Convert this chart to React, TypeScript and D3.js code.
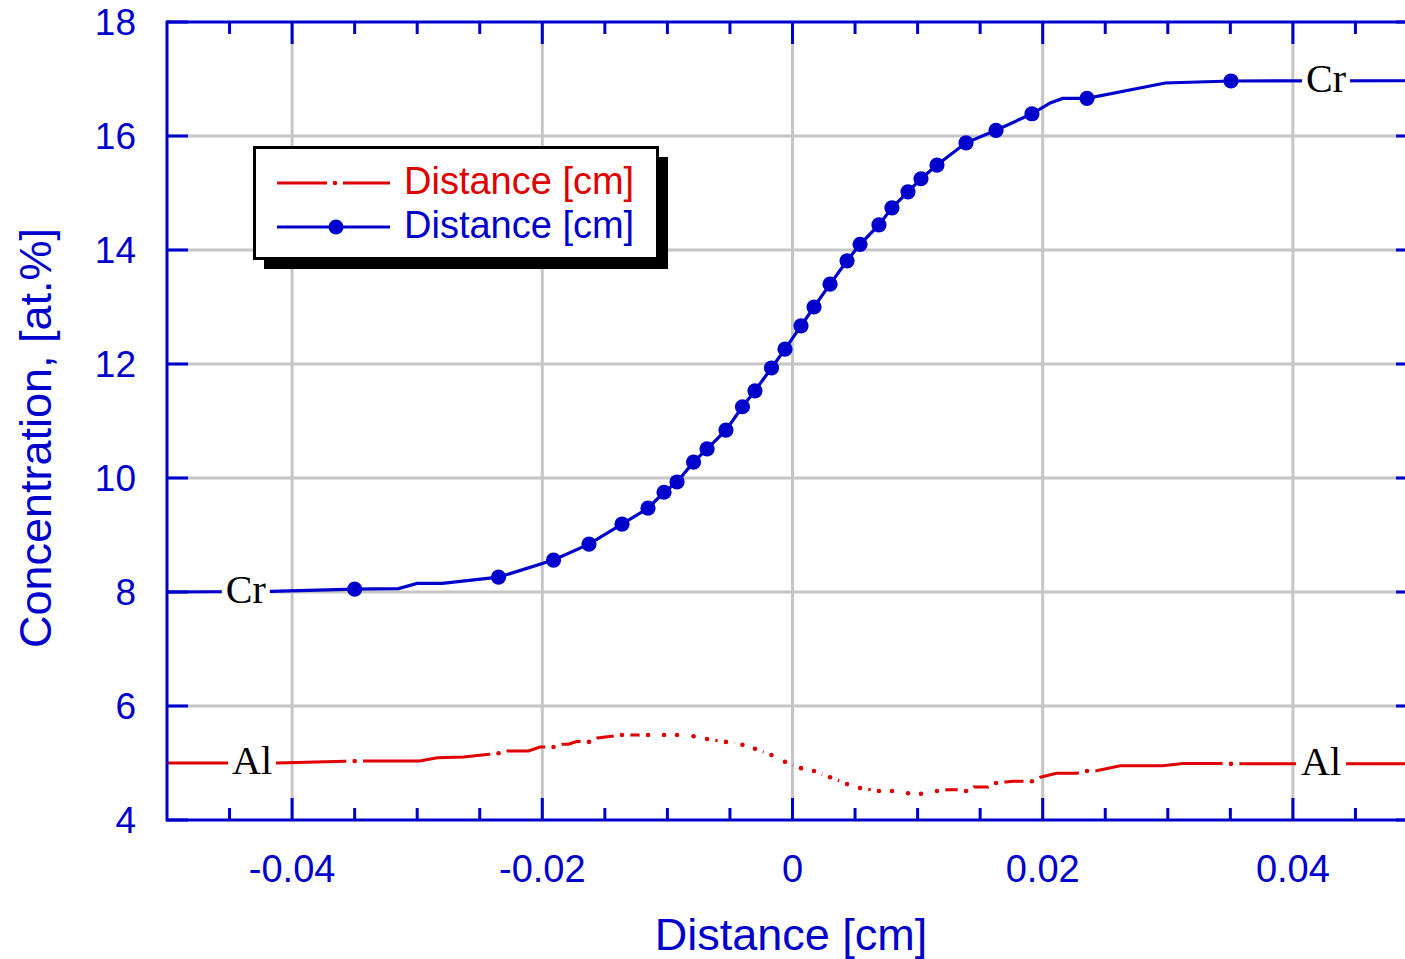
import React from 'react';
import * as d3 from 'd3';

// shared measurement positions (cm)
const xPoints = [-0.035, -0.0235, -0.0191, -0.01627, -0.01363, -0.01155, -0.01027, -0.00923, -0.00791, -0.00683,
  -0.00532, -0.0040, -0.0030, -0.00168, -0.0006, 0.00068, 0.00172, 0.0030, 0.00436, 0.0054,
  0.00691, 0.00795, 0.00923, 0.01027, 0.01155, 0.01387, 0.01627, 0.01914, 0.02354, 0.03505];

// Cr concentration at the measurement points (at.%)
const crValues = [8.05, 8.26, 8.56, 8.84, 9.19, 9.47, 9.75, 9.93, 10.28, 10.51,
  10.84, 11.25, 11.53, 11.93, 12.26, 12.67, 13.0, 13.4, 13.81, 14.1,
  14.44, 14.74, 15.02, 15.25, 15.49, 15.88, 16.1, 16.39, 16.66, 16.965];

// Al concentration at the measurement points (at.%)
const alValues = [5.035, 5.17, 5.28, 5.37, 5.49, 5.49, 5.49, 5.49, 5.47, 5.42,
  5.37, 5.32, 5.25, 5.14, 5.02, 4.91, 4.86, 4.75, 4.63, 4.56,
  4.51, 4.51, 4.47, 4.46, 4.51, 4.51, 4.65, 4.68, 4.86, 4.985];

// intermediate curve vertices (no markers)
const crExtra: [number, number][] = [
  [-0.05, 8.0], [-0.0417, 8.01], [-0.0315, 8.06], [-0.0300, 8.15], [-0.0280, 8.15],
  [0.0206, 16.58], [0.0216, 16.66], [0.0298, 16.93], [0.05, 16.97],
];
const alExtra: [number, number][] = [
  [-0.05, 5.0], [-0.0412, 5.0], [-0.0298, 5.035], [-0.0284, 5.09], [-0.0263, 5.105],
  [-0.0228, 5.21], [-0.0211, 5.21], [-0.0202, 5.28], [-0.0184, 5.33], [-0.0179, 5.33],
  [-0.0172, 5.38], [-0.0156, 5.44],
  [0.01235, 4.53], [0.01323, 4.53], [0.01443, 4.58], [0.01563, 4.58],
  [0.01763, 4.68], [0.01843, 4.68], [0.0198, 4.75], [0.0211, 4.82], [0.0227, 4.82],
  [0.0242, 4.86], [0.0262, 4.95], [0.0296, 4.95], [0.0312, 4.99], [0.0342, 4.99], [0.05, 4.985],
];

const xTicks = [-0.04, -0.02, 0, 0.02, 0.04];
const xTickLabels = ['-0.04', '-0.02', '0', '0.02', '0.04'];
const yTicks = [4, 6, 8, 10, 12, 14, 16, 18];
const legendLabels = ['Distance [cm]', 'Distance [cm]'];
const xTitle = 'Distance [cm]';
const yTitle = 'Concentration, [at.%]';

const BLUE = '#0000cc';
const RED = '#e00000';
const GRID = '#c6c6c6';
const SANS = '"Liberation Sans", Arial, sans-serif';
const SERIF = '"Liberation Serif", "Times New Roman", serif';

export default function App() {
  const W = 1405, H = 959;
  const x = d3.scaleLinear().domain([-0.05, 0.05]).range([167, 1418]);
  const y = d3.scaleLinear().domain([4, 18]).range([820, 22]);
  const left = 167, right = 1418, top = 22, bottom = 820;

  const crPts: [number, number][] = xPoints.map((v, i) => [v, crValues[i]]);
  const alPts: [number, number][] = xPoints.map((v, i) => [v, alValues[i]]);
  const crLine = [...crPts, ...crExtra].sort((a, b) => a[0] - b[0]);
  const alLine = [...alPts, ...alExtra].sort((a, b) => a[0] - b[0]);
  const line = d3.line<[number, number]>().x(d => x(d[0])).y(d => y(d[1]));

  const minorX = d3.range(-50, 51, 5).map(v => v / 1000).filter(v => Math.abs(Math.round(v * 1000)) % 20 !== 0 && Math.abs(v) < 0.0499);

  const labels = [
    { t: 'Cr', x: -0.0437, y: 8.0, w: 48 },
    { t: 'Cr', x: 0.04265, y: 16.97, w: 48 },
    { t: 'Al', x: -0.0432, y: 5.0, w: 48 },
    { t: 'Al', x: 0.04225, y: 4.99, w: 50 },
  ];

  return (
    <svg width={W} height={H} style={{ position: 'absolute', left: 0, top: 0, display: 'block', background: '#fff' }}>
      <defs>
        <clipPath id="plot">
          <rect x={left} y={top} width={right - left} height={bottom - top} />
        </clipPath>
        <mask id="alMask" maskUnits="userSpaceOnUse" x={0} y={0} width={W} height={H}>
          <rect x={0} y={0} width={W} height={H} fill="white" />
          {alPts.map((d, i) => <circle key={i} cx={x(d[0])} cy={y(d[1])} r={8.5} fill="black" />)}
        </mask>
      </defs>
      <rect x={0} y={0} width={W} height={H} fill="#fff" />
      {/* grid */}
      <g stroke={GRID} strokeWidth={3}>
        {xTicks.map((t, i) => <line key={'gx' + i} x1={x(t)} x2={x(t)} y1={top} y2={bottom} />)}
        {yTicks.slice(1, -1).map((t, i) => <line key={'gy' + i} x1={left} x2={right} y1={y(t)} y2={y(t)} />)}
      </g>
      <g clipPath="url(#plot)">
        {/* Al */}
        <path d={line(alLine) || ''} fill="none" stroke={RED} strokeWidth={3} mask="url(#alMask)" />
        {alPts.map((d, i) => <circle key={'ad' + i} cx={x(d[0])} cy={y(d[1])} r={2.3} fill={RED} />)}
        {/* Cr */}
        <path d={line(crLine) || ''} fill="none" stroke={BLUE} strokeWidth={3.2} />
        {crPts.map((d, i) => <circle key={'cd' + i} cx={x(d[0])} cy={y(d[1])} r={7.6} fill={BLUE} />)}
      </g>
      {/* inline series labels */}
      {labels.map((l, i) => (
        <g key={'lb' + i}>
          <rect x={x(l.x) - l.w / 2} y={y(l.y) - 7} width={l.w} height={14} fill="#fff" />
          <text x={x(l.x)} y={y(l.y) + 11} textAnchor="middle" fontFamily={SERIF} fontSize={40} fill="#000">{l.t}</text>
        </g>
      ))}
      {/* axes frame */}
      <g stroke={BLUE} strokeWidth={3} fill="none">
        <line x1={left} x2={right} y1={bottom} y2={bottom} />
        <line x1={left} x2={right} y1={top} y2={top} />
        <line x1={left} x2={left} y1={top - 1.5} y2={bottom + 1.5} />
        <line x1={right} x2={right} y1={top} y2={bottom} />
        {xTicks.map((t, i) => (
          <g key={'xt' + i}>
            <line x1={x(t)} x2={x(t)} y1={bottom} y2={bottom - 22} />
            <line x1={x(t)} x2={x(t)} y1={top} y2={top + 22} />
          </g>
        ))}
        {minorX.map((t, i) => (
          <g key={'xm' + i}>
            <line x1={x(t)} x2={x(t)} y1={bottom} y2={bottom - 12} />
            <line x1={x(t)} x2={x(t)} y1={top} y2={top + 12} />
          </g>
        ))}
        {yTicks.map((t, i) => (
          <g key={'yt' + i}>
            <line x1={left} x2={left + 21} y1={y(t)} y2={y(t)} />
            <line x1={right} x2={right - 22} y1={y(t)} y2={y(t)} />
          </g>
        ))}
      </g>
      {/* tick labels */}
      <g fill={BLUE} fontFamily={SANS}>
        {xTicks.map((t, i) => (
          <text key={'xl' + i} x={x(t)} y={882} textAnchor="middle" fontSize={38}>{xTickLabels[i]}</text>
        ))}
        {yTicks.map((t, i) => (
          <text key={'yl' + i} x={136} y={y(t) + 13} textAnchor="end" fontSize={37}>{t}</text>
        ))}
        <text x={791} y={950} textAnchor="middle" fontSize={45}>{xTitle}</text>
        <text transform="translate(51,438) rotate(-90)" textAnchor="middle" fontSize={45}>{yTitle}</text>
      </g>
      {/* legend */}
      <g>
        <rect x={264} y={157} width={404} height={112} fill="#000" />
        <rect x={254.5} y={147.5} width={403} height={111} fill="#fff" stroke="#000" strokeWidth={3} />
        <line x1={277} x2={327} y1={183} y2={183} stroke={RED} strokeWidth={3} />
        <circle cx={335} cy={183} r={2.3} fill={RED} />
        <line x1={343} x2={390} y1={183} y2={183} stroke={RED} strokeWidth={3} />
        <text x={404} y={194} fontFamily={SANS} fontSize={38} fill={RED}>{legendLabels[0]}</text>
        <line x1={277} x2={390} y1={227} y2={227} stroke={BLUE} strokeWidth={3} />
        <circle cx={336} cy={227} r={7.5} fill={BLUE} />
        <text x={404} y={238} fontFamily={SANS} fontSize={38} fill={BLUE}>{legendLabels[1]}</text>
      </g>
    </svg>
  );
}
